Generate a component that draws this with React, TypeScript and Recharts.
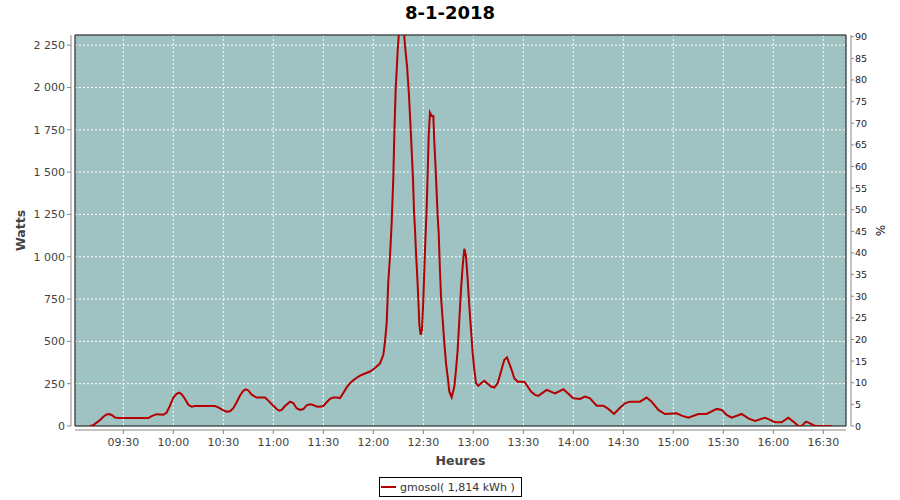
import React from 'react'
import {
  CartesianGrid, ComposedChart, Line, ReferenceArea, XAxis, YAxis,
} from 'recharts'

// minutes since midnight
const TIMES = [
  550, 552, 554, 556, 558, 560, 561.5, 563, 565, 567, 585, 587, 590, 592, 594, 596, 598, 600,
  602, 603.5, 605, 607, 609, 611, 613, 625, 627, 630, 632, 634, 636, 638, 640, 642, 643.5, 645,
  647, 650, 655, 657, 660, 662, 663.6, 665, 667, 670, 672, 674, 676, 678, 680, 682, 684, 686,
  688, 690, 692, 694, 696, 698, 700, 702, 704, 706, 708, 710, 712, 715, 718, 720, 722, 724,
  726, 727, 728, 729, 730, 731, 732, 732.6, 733.4, 734, 734.6, 735.5, 736.8, 738.2, 739, 739.6,
  740.2, 740.8, 741.4, 742, 742.6, 743.2, 743.8, 744.4, 745, 745.6, 746.4, 747, 747.6, 748.4,
  749.2, 750, 750.8, 751.4, 752, 752.6, 753.2, 754, 755, 756, 756.6, 757.4, 758, 758.6, 759.2,
  760, 760.6, 761.6, 762.6, 763.6, 764.6, 765.6, 767, 768.6, 769.6, 770.6, 771.6, 772.6, 773.6,
  774.6, 775.6, 776.6, 777.6, 778.6, 779.6, 780.6, 781.6, 783, 784.6, 786.6, 788.6, 790.6,
  792.6, 794.6, 796.6, 798.6, 800.2, 802.6, 804.6, 806.6, 810.6, 812.6, 814.6, 817, 819, 824,
  829, 834, 840, 844, 847, 850, 854, 858, 861, 864.4, 868, 871, 874, 880, 884, 887, 891, 895,
  902, 905, 909, 915, 920, 926, 929, 932, 935, 941, 945, 949, 955, 958, 961, 965, 969, 972, 975,
  977, 979.6, 982, 985, 995,
]

const WATTS = [
  0, 5, 20, 35, 55, 68, 71, 65, 50, 47, 47, 58, 70, 68, 66, 80, 120, 168,
  190, 197, 188, 160, 125, 114, 118, 118, 110, 92, 85, 87, 105, 140, 180, 208, 217, 210,
  185, 168, 168, 150, 120, 100, 90, 95, 118, 144, 135, 105, 95, 100, 122, 128, 124, 115,
  114, 118, 140, 160, 168, 168, 165, 195, 228, 253, 270, 285, 298, 310, 322, 335, 351, 370,
  421, 499, 608, 855, 1003, 1200, 1469, 1724, 1990, 2099, 2217, 2340, 2480, 2350, 2247, 2188,
  2128, 2040, 1951, 1832, 1714, 1586, 1457, 1270, 1161, 1023, 875, 746, 598, 539,
  569, 746, 983, 1143, 1290, 1487, 1714, 1852, 1832, 1832, 1675, 1517, 1378, 1240, 1143,
  914, 766, 628, 490, 371, 292, 203, 170, 233, 332, 450, 628, 806, 944,
  1047, 1003, 865, 707, 569, 431, 332, 253, 237, 253, 267, 249, 233,
  227, 253, 322, 391, 405, 342, 282, 262, 262, 233, 203, 184, 178, 213,
  193, 217, 164, 160, 174, 164, 120, 120, 101, 71, 108, 134, 144, 144, 168, 144, 95, 71,
  75, 61, 49, 71, 71, 101, 95, 65, 49, 71, 45, 30, 49, 36, 22, 22, 49, 26, 0,
  0, 26, 16, 0, 0,
]

const TIME_TICKS = [570, 600, 630, 660, 690, 720, 750, 780, 810, 840, 870, 900, 930, 960, 990]
const WATT_TICKS = [0, 250, 500, 750, 1000, 1250, 1500, 1750, 2000, 2250]
const PCT_TICKS = [0, 5, 10, 15, 20, 25, 30, 35, 40, 45, 50, 55, 60, 65, 70, 75, 80, 85, 90]

const TITLE = '8-1-2018'
const SERIES_NAME = 'gmosol( 1,814 kWh )'

const X_MIN = 541
const X_MAX = 1003.6
const W_MAX = 2310
const P_MAX = 90.4

const FONT = '"DejaVu Sans", sans-serif'
const AXIS = '#888888'
const LABEL = '#444444'
const RED = '#b40000'

const data = TIMES.map((t, i) => ({ t, w: WATTS[i] }))

const hhmm = (m: number) => {
  const h = Math.floor(m / 60)
  const mm = Math.round(m % 60)
  return `${String(h).padStart(2, '0')}:${String(mm).padStart(2, '0')}`
}

// watts use a space as thousands separator
const spaced = (v: number) => String(v).replace(/\B(?=(\d{3})+(?!\d))/g, ' ')

function XTick({ x, y, payload }: any) {
  return (
    <g>
      <line x1={x} x2={x} y1={y + 4} y2={y + 8} stroke={AXIS} />
      <text x={x} y={y + 20} textAnchor="middle" fontSize={11} fill={LABEL} fontFamily={FONT}>
        {hhmm(payload.value)}
      </text>
    </g>
  )
}

function LeftTick({ x, y, payload }: any) {
  return (
    <g>
      <line x1={x - 4} x2={x - 8} y1={y} y2={y} stroke={AXIS} />
      <text x={x - 10} y={y + 4} textAnchor="end" fontSize={11} fill={LABEL} fontFamily={FONT}>
        {spaced(payload.value)}
      </text>
    </g>
  )
}

function RightTick({ x, y, payload }: any) {
  return (
    <g>
      <line x1={x + 5} x2={x + 8} y1={y} y2={y} stroke={AXIS} />
      <text x={x + 9} y={y + 3.5} textAnchor="start" fontSize={9.5} fill="#222" fontFamily={FONT}>
        {payload.value}
      </text>
    </g>
  )
}

export default function App() {
  return (
    <div style={{ position: 'absolute', left: 0, top: 0, width: 900, height: 500, background: '#fff', fontFamily: FONT }}>
      <div style={{
        position: 'absolute', left: 0, top: 0, width: 900, textAlign: 'center',
        fontSize: 18, fontWeight: 'bold', lineHeight: '26px', color: '#000',
      }}>
        {TITLE}
      </div>

      <ComposedChart width={900} height={500} data={data} margin={{ top: 35, right: 0, bottom: 0, left: 0 }}>
        <CartesianGrid yAxisId="w" stroke="#ffffff" strokeDasharray="2 2" fill="#9ec3c2" fillOpacity={1} />
        <XAxis
          dataKey="t" type="number" domain={[X_MIN, X_MAX]} ticks={TIME_TICKS} allowDataOverflow
          interval={0} height={74} tickSize={0} tickMargin={0} tick={<XTick />}
          axisLine={{ stroke: AXIS, transform: 'translate(0,4)' }}
          label={{
            value: 'Heures',
            content: ({ viewBox }: any) => (
              <text x={viewBox.x + viewBox.width / 2} y={465} textAnchor="middle"
                fontSize={12.5} fontWeight="bold" fill={LABEL} fontFamily={FONT}>Heures</text>
            ),
          }}
        />
        <YAxis
          yAxisId="w" type="number" domain={[0, W_MAX]} ticks={WATT_TICKS} allowDataOverflow
          interval={0} width={75} tickSize={0} tickMargin={0} tick={<LeftTick />}
          axisLine={{ stroke: AXIS, transform: 'translate(-4,0)' }}
          label={{
            value: 'Watts',
            content: ({ viewBox }: any) => {
              const cy = viewBox.y + viewBox.height / 2
              return (
                <text x={25} y={cy} transform={`rotate(-90, 25, ${cy})`} textAnchor="middle"
                  fontSize={12.5} fontWeight="bold" fill={LABEL} fontFamily={FONT}>Watts</text>
              )
            },
          }}
        />
        <YAxis
          yAxisId="p" orientation="right" type="number" domain={[0, P_MAX]} ticks={PCT_TICKS}
          allowDataOverflow interval={0} width={54} tickSize={0} tickMargin={0} tick={<RightTick />}
          axisLine={{ stroke: AXIS, transform: 'translate(5,0)' }}
          label={{
            value: '%',
            content: ({ viewBox }: any) => {
              const cy = viewBox.y + viewBox.height / 2
              return (
                <text x={876} y={cy} transform={`rotate(90, 876, ${cy})`} textAnchor="middle"
                  fontSize={12} fill="#222" fontFamily={FONT}>%</text>
              )
            },
          }}
        />
        <Line
          yAxisId="w" type="linear" dataKey="w" stroke={RED} strokeWidth={2}
          dot={false} activeDot={false} isAnimationActive={false}
        />
        <ReferenceArea
          yAxisId="w" x1={X_MIN} x2={X_MAX} y1={0} y2={W_MAX}
          fill="none" stroke="#000" strokeWidth={1} ifOverflow="visible"
        />
      </ComposedChart>

      <div style={{
        position: 'absolute', left: 379, top: 477, width: 143, height: 20, boxSizing: 'border-box',
        border: '1px solid #000', display: 'flex', alignItems: 'center',
        fontSize: 11, color: '#333', whiteSpace: 'nowrap',
      }}>
        <span style={{ display: 'inline-block', width: 15, height: 2, background: RED, marginLeft: 1, marginRight: 4 }} />
        {SERIES_NAME}
      </div>
    </div>
  )
}
